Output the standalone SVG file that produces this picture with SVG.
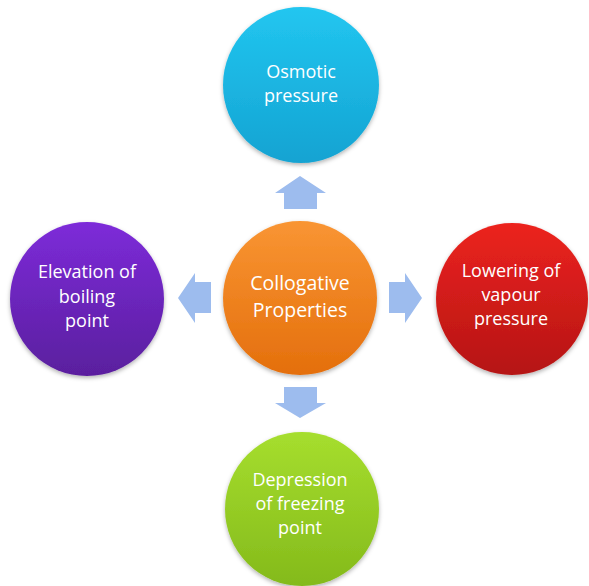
<svg xmlns="http://www.w3.org/2000/svg" width="589" height="586" viewBox="0 0 589 586">
<defs>
<linearGradient id="gCyan" x1="0" y1="0" x2="0" y2="1"><stop offset="0" stop-color="#22c6f0"/><stop offset="1" stop-color="#14a3d2"/></linearGradient>
<linearGradient id="gOrange" x1="0" y1="0" x2="0" y2="1"><stop offset="0" stop-color="#f99533"/><stop offset="1" stop-color="#e46f0c"/></linearGradient>
<linearGradient id="gPurple" x1="0" y1="0" x2="0" y2="1"><stop offset="0" stop-color="#7d2bd9"/><stop offset="1" stop-color="#5a1f9e"/></linearGradient>
<linearGradient id="gRed" x1="0" y1="0" x2="0" y2="1"><stop offset="0" stop-color="#ec231f"/><stop offset="1" stop-color="#b51514"/></linearGradient>
<linearGradient id="gGreen" x1="0" y1="0" x2="0" y2="1"><stop offset="0" stop-color="#a6de2e"/><stop offset="1" stop-color="#84ba1b"/></linearGradient>
<filter id="sh" x="-20%" y="-20%" width="140%" height="140%"><feDropShadow dx="0" dy="2" stdDeviation="2" flood-color="#000" flood-opacity="0.3"/></filter>
</defs>
<style>
text{font-family:"Open Sans","Liberation Sans",sans-serif;font-size:18px;fill:#fff;text-anchor:middle}
.big{font-size:19.5px}
.arrow{fill:#9dbcee}
</style>
<rect width="589" height="586" fill="#fff"/>
<g id="connectors">
<polygon class="arrow" points="300,176 326,193 317,193 317,209 284,209 284,193 275,193"/>
<polygon class="arrow" points="300,418 326,403 317,403 317,387 284,387 284,403 275,403"/>
<polygon class="arrow" points="178,298 195,273 195,282 211,282 211,313 195,313 195,323"/>
<polygon class="arrow" points="422,298 405,273 405,282 389,282 389,313 405,313 405,323"/>
</g>
<g id="osmotic">
<circle cx="301" cy="85" r="78" fill="url(#gCyan)" filter="url(#sh)"/>
<text x="301" y="78">Osmotic</text>
<text x="301" y="102">pressure</text>
</g>
<g id="center">
<circle cx="300" cy="298" r="77" fill="url(#gOrange)" filter="url(#sh)"/>
<text class="big" x="300" y="290">Collogative</text>
<text class="big" x="300" y="317">Properties</text>
</g>
<g id="elevation">
<circle cx="87" cy="299" r="77" fill="url(#gPurple)" filter="url(#sh)"/>
<text x="87" y="278">Elevation of</text>
<text x="87" y="303">boiling</text>
<text x="87" y="327">point</text>
</g>
<g id="lowering">
<circle cx="512" cy="299" r="76" fill="url(#gRed)" filter="url(#sh)"/>
<text x="511" y="277">Lowering of</text>
<text x="511" y="301">vapour</text>
<text x="511" y="325">pressure</text>
</g>
<g id="depression">
<circle cx="302" cy="509" r="77" fill="url(#gGreen)" filter="url(#sh)"/>
<text x="300" y="486">Depression</text>
<text x="300" y="510">of freezing</text>
<text x="300" y="534">point</text>
</g>
</svg>
